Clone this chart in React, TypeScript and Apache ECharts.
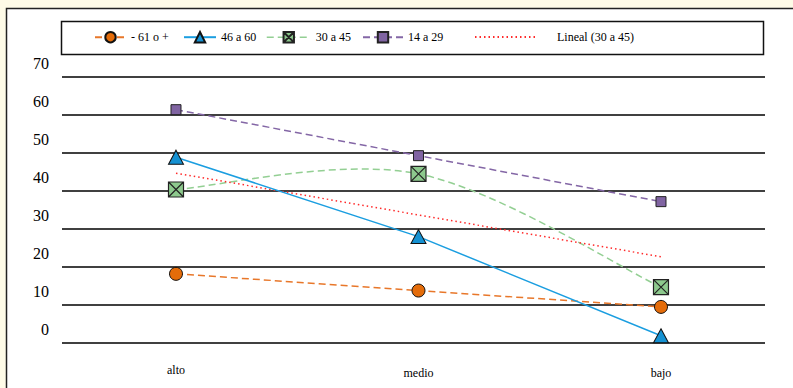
import React, { useEffect, useRef } from "react";
import * as echarts from "echarts";

// Categories along the horizontal axis
const categories = ["alto", "medio", "bajo"];

// Series values (percent) per age group
const mayores61 = [18.2, 13.8, 9.5];
const de46a60 = [48.9, 28.0, 1.9];
const de30a45 = [40.4, 44.5, 14.7];
const de14a29 = [61.4, 49.3, 37.2];
// Linear trend of the "30 a 45" group
const lineal30a45 = [44.7, 33.7, 22.7];

const seriesNames = ["- 61 o +", "46 a 60", "30 a 45", "14 a 29", "Lineal (30 a 45)"];

// Value axis ticks
const yMin = 0;
const yMax = 70;
const yStep = 10;

const FONT = "Liberation Serif";
const BOX_X = "path://M0,0 L10,0 L10,10 L0,10 Z M0,0 L10,10 M10,0 L0,10";

const GREEN_LINE = "#93cf93";

const toPoints = (vals: number[]) => vals.map((v, i) => [i, v]);

// Smoothed (Catmull-Rom style) curve through the points of one series,
// drawn once from the first data item.
const smoothCurve = (values: number[]) => (params: any, api: any) => {
  if (params.dataIndex !== 0) return null;
  const pts = values.map((v, i) => api.coord([i, v]) as number[]);
  const n = pts.length;
  let d = `M${pts[0][0]},${pts[0][1]}`;
  for (let i = 0; i < n - 1; i++) {
    const p0 = pts[Math.max(i - 1, 0)];
    const p1 = pts[i];
    const p2 = pts[i + 1];
    const p3 = pts[Math.min(i + 2, n - 1)];
    const c1x = p1[0] + (p2[0] - p0[0]) / 6;
    const c1y = p1[1] + (p2[1] - p0[1]) / 6;
    const c2x = p2[0] - (p3[0] - p1[0]) / 6;
    const c2y = p2[1] - (p3[1] - p1[1]) / 6;
    d += ` C${c1x},${c1y} ${c2x},${c2y} ${p2[0]},${p2[1]}`;
  }
  return {
    type: "path",
    shape: { pathData: d },
    style: { fill: "none", stroke: GREEN_LINE, lineWidth: 1.5, lineDash: [7, 4] },
  };
};

export default function App() {
  const ref = useRef<HTMLDivElement>(null);

  useEffect(() => {
    if (!ref.current) return;
    const chart = echarts.init(ref.current, null, { renderer: "svg" });

    const legendBase = {
      top: 31,
      itemHeight: 13,
      itemGap: 0,
      padding: 0,
      selectedMode: false,
      textStyle: { fontFamily: FONT, fontSize: 12, color: "#000" },
    };

    chart.setOption({
      animation: false,
      backgroundColor: "#fefbe7",
      textStyle: { fontFamily: FONT },
      graphic: [
        {
          type: "rect",
          z: -10,
          shape: { x: 6.5, y: 8.5, width: 800, height: 400 },
          style: { fill: "#ffffff", stroke: "#222", lineWidth: 1.5 },
        },
        {
          type: "rect",
          z: -5,
          shape: { x: 61.5, y: 21.5, width: 702, height: 33 },
          style: { fill: "none", stroke: "#111", lineWidth: 1.5 },
        },
      ],
      legend: [
        { ...legendBase, left: 94, itemWidth: 31, data: [seriesNames[0]] },
        { ...legendBase, left: 183, itemWidth: 32, data: [seriesNames[1]] },
        {
          ...legendBase,
          left: 266,
          itemWidth: 44,
          data: [
            {
              name: seriesNames[2],
              lineStyle: { color: GREEN_LINE, width: 1.5, type: [7, 4], opacity: 1 },
            },
          ],
        },
        { ...legendBase, left: 362, itemWidth: 40, data: [seriesNames[3]] },
        {
          ...legendBase,
          left: 474,
          itemWidth: 60,
          data: [{ name: seriesNames[4], itemStyle: { opacity: 0 } }],
          textStyle: { ...legendBase.textStyle, padding: [0, 0, 0, 17] },
        },
      ],
      grid: { left: 62, right: 28, top: 77, bottom: 45 },
      xAxis: {
        type: "value",
        min: -0.4701,
        max: 2.4289,
        axisLine: { show: false },
        axisTick: { show: false },
        splitLine: { show: false },
        axisLabel: {
          customValues: categories.map((_, i) => i),
          margin: 21,
          fontFamily: FONT,
          fontSize: 12,
          color: "#000",
          formatter: (v: number) => {
            const i = Math.round(v);
            return i === 0 ? `{hi|${categories[i]}}` : `{lo|${categories[i]}}`;
          },
          rich: {
            hi: { fontFamily: FONT, fontSize: 12, color: "#000" },
            lo: { fontFamily: FONT, fontSize: 12, color: "#000", padding: [3, 0, 0, 0] },
          },
        },
      },
      yAxis: {
        type: "value",
        min: yMin,
        max: yMax,
        interval: yStep,
        axisLine: { show: false },
        axisTick: { show: false },
        axisLabel: {
          fontFamily: FONT,
          fontSize: 16,
          color: "#000",
          margin: 13,
          verticalAlign: "bottom",
          lineHeight: 28,
        },
        splitLine: {
          show: true,
          lineStyle: { color: "#000", width: 1.7, type: "solid" },
        },
      },
      series: [
        {
          name: seriesNames[0],
          type: "line",
          data: toPoints(mayores61),
          symbol: "circle",
          symbolSize: 13,
          itemStyle: { color: "#e46c0a", borderColor: "#111", borderWidth: 1 },
          lineStyle: { color: "#e8772a", width: 1.5, type: [7, 4] },
          z: 3,
        },
        {
          name: seriesNames[1],
          type: "line",
          data: toPoints(de46a60),
          symbol: "triangle",
          symbolSize: [15, 14],
          itemStyle: { color: "#1591d2", borderColor: "#111", borderWidth: 1 },
          lineStyle: { color: "#1b9ee0", width: 1.5 },
          z: 3,
        },
        {
          name: "30 a 45 (curva)",
          type: "custom",
          data: toPoints(de30a45),
          renderItem: smoothCurve(de30a45),
          silent: true,
          z: 2,
        },
        {
          name: seriesNames[2],
          type: "line",
          data: toPoints(de30a45),
          symbol: BOX_X,
          symbolSize: 15,
          symbolKeepAspect: true,
          itemStyle: { color: "#8dc98d", borderColor: "#222", borderWidth: 1.2 },
          lineStyle: { color: GREEN_LINE, width: 1.5, type: [7, 4], opacity: 0 },
          z: 3,
        },
        {
          name: seriesNames[3],
          type: "line",
          data: toPoints(de14a29),
          symbol: "rect",
          symbolSize: 10,
          itemStyle: { color: "#8064a2", borderColor: "#222", borderWidth: 1 },
          lineStyle: { color: "#8467a6", width: 1.5, type: [7, 4] },
          z: 3,
        },
        {
          name: seriesNames[4],
          type: "line",
          data: toPoints(lineal30a45),
          symbol: "none",
          itemStyle: { color: "#ff2a2a" },
          lineStyle: { color: "#ff2a2a", width: 1.5, type: [1.5, 3] },
          z: 2,
        },
      ],
    });

    return () => chart.dispose();
  }, []);

  return (
    <div
      ref={ref}
      style={{ position: "fixed", left: 0, top: 0, width: 793, height: 388 }}
    />
  );
}
